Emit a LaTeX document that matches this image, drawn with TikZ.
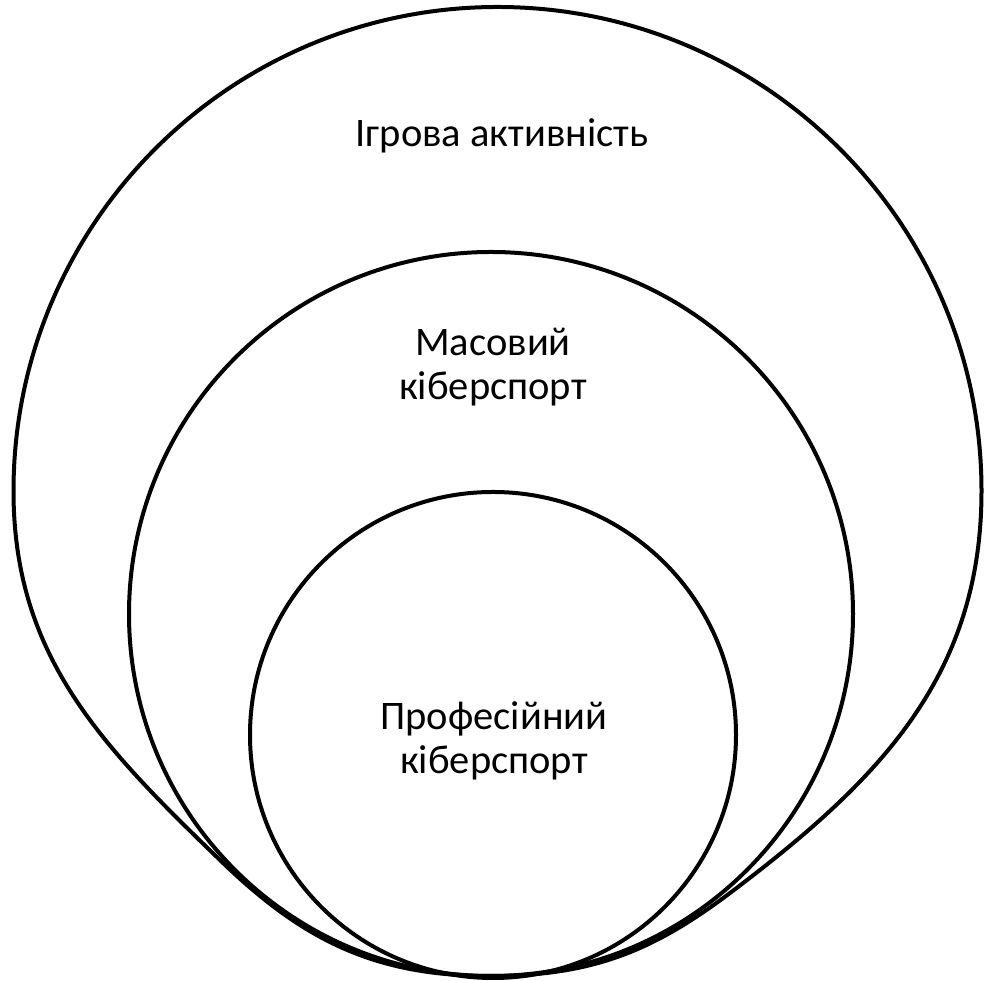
\documentclass[tikz,border=0pt]{standalone}
\usepackage{fontspec}
\setmainfont{Carlito}
\tikzset{
  ring/.style={draw=black, line width=4pt, circle, inner sep=0pt, fill=none},
  rimline/.style={draw=black, line width=4pt, line join=round},
  caption/.style={font=\fontsize{40.5}{44}\selectfont, align=center, inner sep=0pt, text=black}
}
\begin{document}
\begin{tikzpicture}[x=1pt,y=1pt]
  \useasboundingbox (0,0) rectangle (986,981);
  % outer shape: round on top, drawn in towards the bottom
  \coordinate (gamingL) at (13.5,490);
  \coordinate (gamingR) at (981.5,490);
  \coordinate (crossR) at (730,88);
  \coordinate (crossL) at (222,119);
  \coordinate (gamingB) at (490,5);
  \draw[rimline] (gamingL) arc[start angle=180, end angle=0, radius=484]
    to[out=-90, in=37] (crossR)
    to[out=217, in=0] (gamingB)
    to[out=180, in=-44] (crossL)
    to[out=136, in=-90] cycle;
  % inner circles, touching at the bottom
  \node[ring, minimum size=724pt] (mass) at (491,367) {};
  \node[ring, minimum size=486pt] (pro) at (493,246) {};
  % labels
  \node[caption] (gamingtext) at (502,845) {Ігрова активність};
  \node[caption] (masstext) at (493,614) {Масовий\\кіберспорт};
  \node[caption] (protext) at (494,240) {Професійний\\кіберспорт};
\end{tikzpicture}
\end{document}
